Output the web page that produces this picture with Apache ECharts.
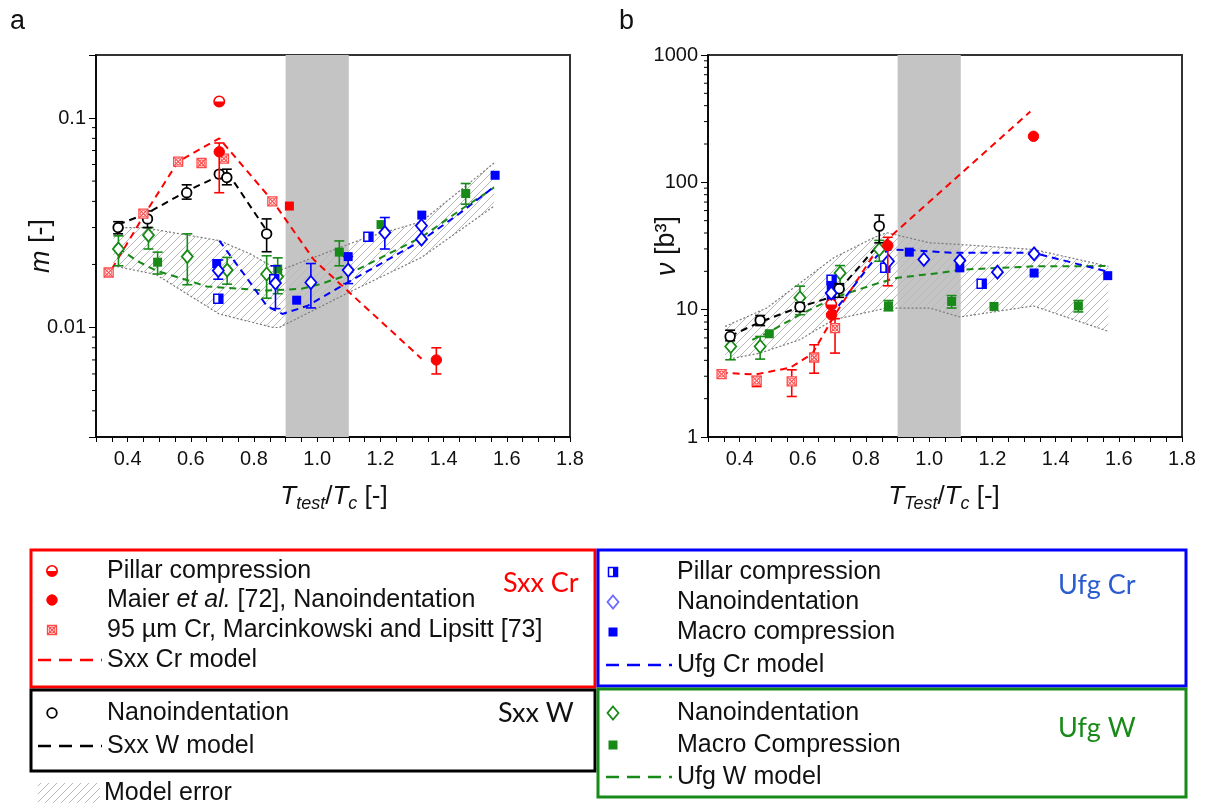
<!DOCTYPE html>
<html><head><meta charset="utf-8">
<script src="https://cdn.jsdelivr.net/npm/echarts@6/dist/echarts.min.js"></script>
<style>html,body{margin:0;padding:0;background:#fff}#c{width:1207px;height:803px}</style>
</head><body><div id="c"></div>
<script>
// ---------- tick labels ----------
const xTickLabels = ['0.4','0.6','0.8','1.0','1.2','1.4','1.6','1.8'];
const aYTickLabels = ['0.01','0.1'];
const bYTickLabels = ['1','10','100','1000'];
const aMinorTicks = [0.004,0.005,0.006,0.007,0.008,0.009,0.02,0.03,0.04,0.05,0.06,0.07,0.08,0.09];
const bMinorTicks = [2,3,4,5,6,7,8,9,20,30,40,50,60,70,80,90,200,300,400,500,600,700,800,900];
const shadeRange = [0.9, 1.1];

// ---------- panel a : m [-] ----------  [x, y, lo, hi]
const aSxxCrPillar = [[0.69,0.12]];
const aSxxCrMaier = [[0.69,0.069,0.044,0.076],[1.377,0.0070,0.0060,0.0080]];
const aSxxCrMaierSq = [[0.912,0.038]];
const aSxxCrMarc = [[0.34,0.0183],[0.45,0.035],[0.56,0.062],[0.634,0.061],[0.705,0.064],[0.858,0.040]];
const aSxxCrModel = [[0.35,0.019],[0.45,0.034],[0.56,0.062],[0.69,0.080],[0.86,0.040],[0.99,0.021],[1.33,0.0071]];
const aSxxWNano = [[0.37,0.030,0.028,0.032],[0.463,0.033,0.030,0.036],[0.587,0.044,0.041,0.048],[0.69,0.054],[0.714,0.052,0.048,0.057],[0.84,0.028,0.023,0.033]];
const aSxxWModel = [[0.37,0.031],[0.46,0.035],[0.59,0.045],[0.69,0.053],[0.72,0.054],[0.84,0.029]];
const aUfgWNano = [[0.371,0.0237,0.0197,0.0274],[0.466,0.0276,0.0237,0.030],[0.589,0.0218,0.016,0.028],[0.715,0.0188,0.0161,0.0216],[0.84,0.018,0.0138,0.022],[0.875,0.0175,0.0145,0.0215]];
const aUfgWMacro = [[0.495,0.0205,0.018,0.0229],[0.875,0.019],[1.07,0.0229,0.0197,0.0259],[1.202,0.031],[1.47,0.0436,0.0388,0.0487]];
const aUfgWModel = [[0.37,0.024],[0.43,0.0208],[0.49,0.0187],[0.59,0.0168],[0.65,0.0157],[0.76,0.0153],[0.84,0.015],[0.95,0.0153],[1.01,0.0161],[1.09,0.0177],[1.33,0.027],[1.46,0.037],[1.56,0.0466]];
const aUfgCrPillar = [[0.687,0.0137],[0.864,0.017],[1.162,0.0271]];
const aUfgCrNano = [[0.687,0.0187,0.017,0.021],[0.868,0.0163,0.0123,0.0197],[0.98,0.0164,0.0124,0.0202],[1.098,0.0188,0.0162,0.0218],[1.214,0.0284,0.0237,0.0335],[1.33,0.0306],[1.33,0.0264]];
const aUfgCrMacro = [[0.682,0.0202],[0.935,0.0135],[1.098,0.0218],[1.331,0.0344],[1.563,0.0533]];
const aUfgCrModel = [[0.69,0.026],[0.78,0.017],[0.84,0.0127],[0.89,0.0116],[0.97,0.0127],[1.09,0.0162],[1.33,0.026],[1.45,0.035],[1.56,0.047]];
const aBandUpper = [[0.355,0.030],[0.45,0.030],[0.69,0.026],[0.79,0.0224],[0.88,0.0187],[1.1,0.025],[1.16,0.027],[1.33,0.032],[1.56,0.061]];
const aBandLower = [[0.355,0.0197],[0.49,0.0179],[0.69,0.0116],[0.86,0.010],[0.88,0.010],[1.1,0.0147],[1.33,0.0216],[1.56,0.038]];

// ---------- panel b : nu [b^3] ----------
const bSxxCrPillar = [[0.69,11]];
const bSxxCrMaier = [[0.691,9.1],[0.869,31.9,15.4,37],[1.33,230]];
const bSxxCrMarc = [[0.343,3.12],[0.454,2.77,2.49,2.98],[0.565,2.73,2.08,3.37],[0.636,4.21,3.17,5.3],[0.702,7.17,4.56,8.5]];
const bSxxCrModel = [[0.34,3.2],[0.45,3.1],[0.56,3.5],[0.63,4.5],[0.70,9],[0.84,31],[1.32,360]];
const bSxxWNano = [[0.37,6.16,5.7,6.9],[0.465,8.24,7.5,9.0],[0.591,10.5,9.7,11.3],[0.715,14.6,12.5,16],[0.842,45.3,33.5,55.3]];
const bSxxWModel = [[0.37,6.2],[0.465,8.0],[0.59,10.5],[0.697,12.7],[0.844,33.5]];
const bUfgWNano = [[0.372,5.14,4.04,6.3],[0.465,5.14,4.09,6.16],[0.591,12.4,9.13,15.3],[0.718,19.4,14.4,22.2],[0.842,29.7,24,35]];
const bUfgWMacro = [[0.494,6.47],[0.871,10.7,9.8,11.8],[1.071,11.6,10.3,12.9],[1.205,10.6],[1.472,10.7,9.6,11.8]];
const bUfgWModel = [[0.44,5.8],[0.49,6.6],[0.6,9.4],[0.71,12.7],[0.84,16.2],[0.9,17.8],[1.03,19.4],[1.1,20.6],[1.33,21.9],[1.56,22]];
const bUfgCrPillar = [[0.691,17.2],[0.861,21.3],[1.166,16.0]];
const bUfgCrNano = [[0.69,13.5],[0.871,24],[0.983,24.8],[1.097,24.3],[1.216,19.7],[1.332,27.4]];
const bUfgCrMacro = [[0.69,15.5],[0.69,12.5],[0.937,28.3],[1.097,21.3],[1.332,19.4],[1.565,18.5]];
const bUfgCrModel = [[0.69,9.0],[0.834,26.3],[0.877,29.6],[0.94,29.4],[1.07,28],[1.33,28],[1.56,20]];
const bBandUpper = [[0.354,7.39],[0.486,10.3],[0.697,25.5],[0.824,36.7],[0.866,40.2],[1.002,33.5],[1.097,32.5],[1.33,29.7],[1.567,21.9]];
const bBandLower = [[0.354,4.04],[0.465,4.56],[0.59,5.8],[0.697,8.34],[0.866,10.3],[1.002,10.3],[1.097,8.76],[1.33,10.7],[1.567,6.75]];

// ---------- styling ----------
const FONT = '"Liberation Sans", Arial, sans-serif';
const LABF = 'Lato, "Open Sans", sans-serif';
const RED = '#ff0000', REDL = '#ff4a4a', BLUE = '#0000ff', GREEN = '#178a17', BLACK = '#000000';

const hc = document.createElement('canvas'); hc.width = 8; hc.height = 8;
const g2 = hc.getContext('2d'); g2.strokeStyle = '#b9b9b9'; g2.lineWidth = 1;
g2.beginPath(); g2.moveTo(0,8); g2.lineTo(8,0); g2.moveTo(-2,2); g2.lineTo(2,-2); g2.moveTo(6,10); g2.lineTo(10,6); g2.stroke();
const hatch = {image: hc, repeat: 'repeat'};

function shapeEls(shape, x, y, color) {
  const out = [];
  if (shape === 'circleOpen') {
    out.push({type:'circle', shape:{cx:x,cy:y,r:4.8}, style:{fill:'#fff', stroke:color, lineWidth:1.8}});
  } else if (shape === 'circleFilled') {
    out.push({type:'circle', shape:{cx:x,cy:y,r:5.2}, style:{fill:color, stroke:color, lineWidth:1}});
  } else if (shape === 'circleHalf') {
    out.push({type:'circle', shape:{cx:x,cy:y,r:5.2}, style:{fill:'#fff', stroke:color, lineWidth:1.6}});
    out.push({type:'sector', shape:{cx:x,cy:y,r:5.2,r0:0,startAngle:0,endAngle:Math.PI}, style:{fill:color}});
  } else if (shape === 'squareCross') {
    const s = 4.5, st = {stroke:REDL, lineWidth:1.1};
    out.push({type:'rect', shape:{x:x-s,y:y-s,width:2*s,height:2*s}, style:{fill:'#fff', stroke:REDL, lineWidth:1.3}});
    out.push({type:'line', shape:{x1:x-s,y1:y-s,x2:x+s,y2:y+s}, style:st});
    out.push({type:'line', shape:{x1:x-s,y1:y+s,x2:x+s,y2:y-s}, style:st});
    out.push({type:'circle', shape:{cx:x,cy:y,r:3}, style:{fill:'none', stroke:REDL, lineWidth:1}});
  } else if (shape === 'squareFilled') {
    out.push({type:'rect', shape:{x:x-4.5,y:y-4.5,width:9,height:9}, style:{fill:color}});
  } else if (shape === 'squareHalf') {
    out.push({type:'rect', shape:{x:x-4.5,y:y-4.5,width:9,height:9}, style:{fill:'#fff', stroke:color, lineWidth:1.5}});
    out.push({type:'rect', shape:{x:x,y:y-4.5,width:4.5,height:9}, style:{fill:color}});
  } else if (shape === 'diamondOpen') {
    out.push({type:'polygon', shape:{points:[[x,y-6.5],[x+5.5,y],[x,y+6.5],[x-5.5,y]]}, style:{fill:'#fff', stroke:color, lineWidth:1.8}});
  }
  return out;
}

function markerSeries(data, gi, color, shape, z) {
  return {
    type:'custom', xAxisIndex:gi, yAxisIndex:gi, z: z || 6, clip:false, silent:true,
    encode:{x:0, y:1},
    data: data.map(d => [d[0], d[1], d.length > 2 ? d[2] : d[1], d.length > 2 ? d[3] : d[1], d.length > 2 ? 1 : 0]),
    renderItem: (params, api) => {
      const x = api.value(0), y = api.value(1);
      const p = api.coord([x, y]);
      const ch = [];
      if (api.value(4)) {
        const lo = api.coord([x, api.value(2)]), hi = api.coord([x, api.value(3)]);
        const es = {stroke:color, lineWidth:1.6};
        ch.push({type:'line', shape:{x1:p[0],y1:lo[1],x2:p[0],y2:hi[1]}, style:es});
        ch.push({type:'line', shape:{x1:p[0]-5,y1:lo[1],x2:p[0]+5,y2:lo[1]}, style:es});
        ch.push({type:'line', shape:{x1:p[0]-5,y1:hi[1],x2:p[0]+5,y2:hi[1]}, style:es});
      }
      return {type:'group', children: ch.concat(shapeEls(shape, p[0], p[1], color))};
    }
  };
}
function modelLine(data, gi, color) {
  return {type:'line', xAxisIndex:gi, yAxisIndex:gi, data, symbol:'none', z:4, silent:true,
    lineStyle:{color, width:2, type:[7,5]}};
}
function borderLine(data, gi) {
  return {type:'line', xAxisIndex:gi, yAxisIndex:gi, data, symbol:'none', z:3, silent:true,
    lineStyle:{color:'#7a7a7a', width:1.2, type:[2,2]}};
}
function bandSeries(upper, lower, gi) {
  return {type:'custom', xAxisIndex:gi, yAxisIndex:gi, z:1, silent:true, clip:false,
    encode:{x:0, y:1}, data:[upper[0]],
    renderItem: (params, api) => {
      const pts = upper.concat(lower.slice().reverse()).map(d => api.coord(d));
      return {type:'polygon', shape:{points:pts}, style:{fill:hatch, stroke:null}};
    }};
}
function shadeSeries(gi, yv) {
  return {type:'line', xAxisIndex:gi, yAxisIndex:gi, data:[[shadeRange[0], yv]], symbol:'none', z:2, silent:true,
    lineStyle:{opacity:0},
    markArea:{silent:true, itemStyle:{color:'#c4c4c4'}, data:[[{xAxis:shadeRange[0]},{xAxis:shadeRange[1]}]]}};
}
function minorTickSeries(vals, gi, xmin) {
  return {type:'custom', xAxisIndex:gi, yAxisIndex:gi, z:10, silent:true, clip:false,
    encode:{x:0, y:1}, data: vals.map(v => [xmin, v]),
    renderItem: (params, api) => {
      const c = api.coord([api.value(0), api.value(1)]);
      return {type:'line', shape:{x1:c[0]-4,y1:c[1],x2:c[0],y2:c[1]}, style:{stroke:'#000', lineWidth:1}};
    }};
}

function xAxisCfg(gi) {
  return {gridIndex:gi, type:'value', min:0.3, max:1.8, interval:0.05,
    axisLine:{show:true, onZero:false, lineStyle:{color:'#000', width:1.5}},
    axisTick:{show:true, inside:false, length:5, lineStyle:{color:'#000', width:1}},
    splitLine:{show:false},
    axisLabel:{margin:12, fontSize:20, color:'#111', fontFamily:FONT,
      formatter: v => { if (Math.abs(v*10 - Math.round(v*10)) > 1e-6) return ''; const s = v.toFixed(1); return xTickLabels.includes(s) ? s : ''; }}};
}
function yAxisCfg(gi, min, max, labels) {
  return {gridIndex:gi, type:'log', logBase:10, min, max,
    axisLine:{show:true, onZero:false, lineStyle:{color:'#000', width:1.5}},
    axisTick:{show:true, inside:false, length:7, lineStyle:{color:'#000', width:1}},
    splitLine:{show:false}, minorTick:{show:false},
    axisLabel:{margin:10, fontSize:20, color:'#111', fontFamily:FONT,
      formatter: v => { const l = Math.log10(v), r = Math.round(l); if (Math.abs(l - r) > 1e-6) return '';
        const s = r < 0 ? Math.pow(10, r).toFixed(-r) : String(Math.round(Math.pow(10, r))); return labels.includes(s) ? s : ''; }}};
}

// ---------- legend graphics ----------
const LF = 25;
const gfx = [];
function txt(x, y, text, opts) {
  gfx.push(Object.assign({type:'text', x, y, silent:true,
    style:Object.assign({text, fontSize:LF, fontFamily:FONT, fill:'#111', verticalAlign:'middle', align:'left'}, opts || {})}));
}
function box(x, y, w, h, color) {
  gfx.push({type:'rect', silent:true, shape:{x, y, width:w, height:h}, style:{fill:null, stroke:color, lineWidth:3}});
}
function dash(x1, x2, y, color) {
  gfx.push({type:'line', silent:true, shape:{x1, y1:y, x2, y2:y}, style:{stroke:color, lineWidth:2.5, lineDash:[13,8]}});
}
function icon(shape, x, y, color) { shapeEls(shape, x, y, color).forEach(e => { e.silent = true; gfx.push(e); }); }

// titles
txt(10, 22, 'a', {fontSize:27});
txt(619, 22, 'b', {fontSize:27});
// axis names
gfx.push({type:'text', x:41, y:246, rotation:Math.PI/2, silent:true,
  style:{text:'{i|m} [-]', fontSize:27, fontFamily:FONT, fill:'#111', align:'center', verticalAlign:'middle',
    rich:{i:{fontStyle:'italic', fontSize:27, fontFamily:FONT}}}});
gfx.push({type:'text', x:667, y:246, rotation:Math.PI/2, silent:true,
  style:{text:'{i|ν} [b³]', fontSize:27, fontFamily:FONT, fill:'#111', align:'center', verticalAlign:'middle',
    rich:{i:{fontStyle:'italic', fontSize:27, fontFamily:FONT}}}});
const richX = {
  it:{fontStyle:'italic', fontSize:26, fontFamily:FONT, lineHeight:32, fill:'#111'},
  sub:{fontStyle:'italic', fontSize:18, fontFamily:FONT, lineHeight:18, verticalAlign:'bottom', fill:'#111'},
  n:{fontSize:26, fontFamily:FONT, lineHeight:32, fill:'#111'}
};
gfx.push({type:'text', x:334, y:497, silent:true,
  style:{text:'{it|T}{sub|test}{n|/}{it|T}{sub|c}{n| [-]}', align:'center', verticalAlign:'middle', rich:richX}});
gfx.push({type:'text', x:944, y:497, silent:true,
  style:{text:'{it|T}{sub|Test}{n|/}{it|T}{sub|c}{n| [-]}', align:'center', verticalAlign:'middle', rich:richX}});

// Sxx Cr box
box(31, 550, 564, 137, RED);
icon('circleHalf', 52, 571, RED); txt(107, 571, 'Pillar compression');
icon('circleFilled', 52, 600, RED);
txt(107, 600, 'Maier {i|et al.} [72], Nanoindentation', {rich:{i:{fontStyle:'italic', fontSize:LF, fontFamily:FONT}}});
icon('squareCross', 52, 630, RED); txt(107, 630, '95 µm Cr, Marcinkowski and Lipsitt [73]');
dash(38, 102, 660, RED); txt(107, 660, 'Sxx Cr model');
txt(503, 583, 'Sxx Cr', {fill:RED, fontFamily:LABF, fontSize:27});
// Ufg Cr box
box(598, 550, 588, 136, BLUE);
icon('squareHalf', 613, 572, BLUE); txt(677, 572, 'Pillar compression');
icon('diamondOpen', 613, 602, '#6b6bff'); txt(677, 602, 'Nanoindentation');
icon('squareFilled', 613, 632, BLUE); txt(677, 632, 'Macro compression');
dash(606, 672, 665, BLUE); txt(677, 665, 'Ufg Cr model');
txt(1058, 585, 'Ufg Cr', {fill:'#2a5bd0', fontFamily:LABF, fontSize:27});
// Sxx W box
box(31, 690, 564, 81, BLACK);
icon('circleOpen', 52, 713, BLACK); txt(107, 713, 'Nanoindentation');
dash(38, 102, 746, BLACK); txt(107, 746, 'Sxx W model');
txt(498, 713, 'Sxx W', {fontFamily:LABF, fontSize:27});
// Ufg W box
box(598, 689, 588, 108, GREEN);
icon('diamondOpen', 613, 713, GREEN); txt(677, 713, 'Nanoindentation');
icon('squareFilled', 613, 745, GREEN); txt(677, 745, 'Macro Compression');
dash(606, 672, 777, GREEN); txt(677, 777, 'Ufg W model');
txt(1058, 728, 'Ufg W', {fill:GREEN, fontFamily:LABF, fontSize:27});
// model error
gfx.push({type:'rect', silent:true, shape:{x:38, y:783, width:62, height:20}, style:{fill:hatch}});
txt(104, 793, 'Model error');

// ---------- chart ----------
const series = [
  bandSeries(aBandUpper, aBandLower, 0), shadeSeries(0, 0.01),
  borderLine(aBandUpper, 0), borderLine(aBandLower, 0),
  modelLine(aSxxCrModel, 0, RED), modelLine(aSxxWModel, 0, BLACK),
  modelLine(aUfgWModel, 0, GREEN), modelLine(aUfgCrModel, 0, BLUE),
  markerSeries(aUfgWNano, 0, GREEN, 'diamondOpen'), markerSeries(aUfgWMacro, 0, GREEN, 'squareFilled'),
  markerSeries(aUfgCrPillar, 0, BLUE, 'squareHalf'), markerSeries(aUfgCrMacro, 0, BLUE, 'squareFilled'),
  markerSeries(aUfgCrNano, 0, BLUE, 'diamondOpen', 7),
  markerSeries(aSxxWNano, 0, BLACK, 'circleOpen'),
  markerSeries(aSxxCrMarc, 0, RED, 'squareCross'), markerSeries(aSxxCrMaierSq, 0, RED, 'squareFilled'),
  markerSeries(aSxxCrMaier, 0, RED, 'circleFilled', 7), markerSeries(aSxxCrPillar, 0, RED, 'circleHalf'),
  minorTickSeries(aMinorTicks, 0, 0.3),

  bandSeries(bBandUpper, bBandLower, 1), shadeSeries(1, 10),
  borderLine(bBandUpper, 1), borderLine(bBandLower, 1),
  modelLine(bSxxCrModel, 1, RED), modelLine(bSxxWModel, 1, BLACK),
  modelLine(bUfgWModel, 1, GREEN), modelLine(bUfgCrModel, 1, BLUE),
  markerSeries(bUfgWNano, 1, GREEN, 'diamondOpen'), markerSeries(bUfgWMacro, 1, GREEN, 'squareFilled'),
  markerSeries(bUfgCrPillar, 1, BLUE, 'squareHalf'), markerSeries(bUfgCrMacro, 1, BLUE, 'squareFilled'),
  markerSeries(bUfgCrNano, 1, BLUE, 'diamondOpen', 7),
  markerSeries(bSxxWNano, 1, BLACK, 'circleOpen'),
  markerSeries(bSxxCrMarc, 1, RED, 'squareCross'),
  markerSeries(bSxxCrMaier, 1, RED, 'circleFilled', 7), markerSeries(bSxxCrPillar, 1, RED, 'circleHalf'),
  minorTickSeries(bMinorTicks, 1, 0.3)
];

const chart = echarts.init(document.getElementById('c'), null, {renderer:'canvas'});
chart.setOption({
  animation:false, backgroundColor:'#fff',
  grid:[
    {left:96, top:55, width:474, height:382, show:true, borderColor:'#333', borderWidth:2, backgroundColor:'transparent'},
    {left:708, top:55, width:474, height:382, show:true, borderColor:'#333', borderWidth:2, backgroundColor:'transparent'}
  ],
  xAxis:[xAxisCfg(0), xAxisCfg(1)],
  yAxis:[yAxisCfg(0, 0.003, 0.2, aYTickLabels), yAxisCfg(1, 1, 1000, bYTickLabels)],
  series,
  graphic: gfx
});
</script></body></html>
